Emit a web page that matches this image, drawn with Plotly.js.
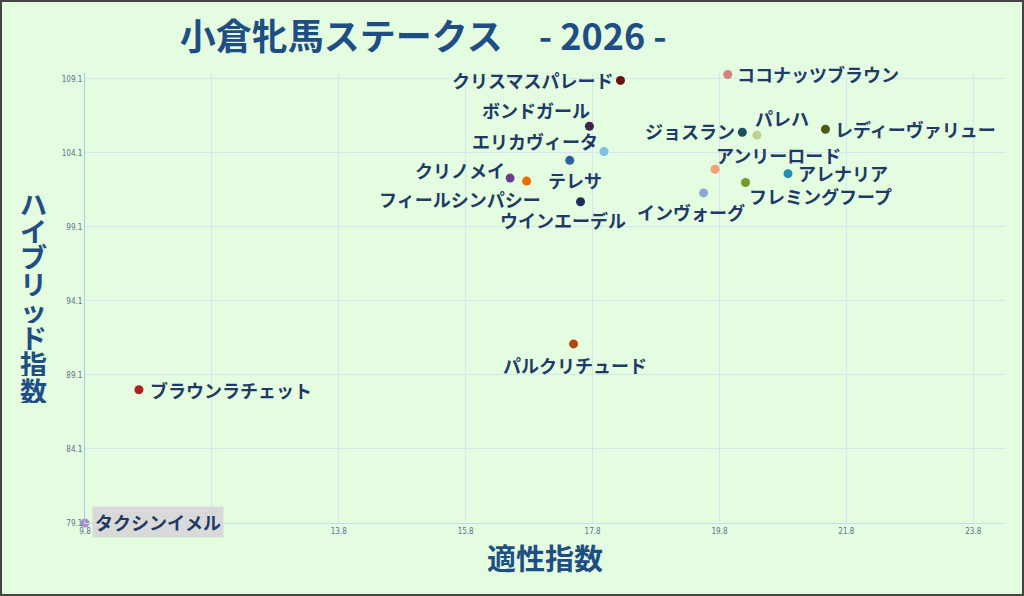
<!DOCTYPE html>
<html>
<head>
<meta charset="utf-8">
<script src="https://cdn.plot.ly/plotly-3.0.1.min.js"></script>
<style>
  html, body { margin: 0; padding: 0; background: #e4fde0; }
  #chart { width: 1024px; height: 596px; border: 2px solid #444; box-sizing: border-box; }
</style>
</head>
<body>
<div id="chart"></div>
<script>
// 馬名・適性指数・ハイブリッド指数
var horses = ['クリスマスパレード', 'ココナッツブラウン', 'ボンドガール', 'エリカヴィータ', 'テレサ',
  'クリノメイ', 'フィールシンパシー', 'ウインエーデル', 'ジョスラン', 'パレハ',
  'レディーヴァリュー', 'アンリーロード', 'アレナリア', 'フレミングフープ', 'インヴォーグ',
  'パルクリチュード', 'ブラウンラチェット', 'タクシンイメル'];
var tekisei = [18.24, 19.93, 17.75, 17.98, 17.44,
  16.50, 16.76, 17.61, 20.16, 20.39,
  21.47, 19.73, 20.88, 20.21, 19.55,
  17.50, 10.65, 9.80];
var hybrid = [109.0, 109.4, 105.9, 104.2, 103.6,
  102.4, 102.2, 100.8, 105.5, 105.3,
  105.7, 103.0, 102.7, 102.1, 101.4,
  91.2, 88.1, 79.1];
var dotColors = ['#6b1010', '#d88080', '#3d2448', '#7ec4e0', '#2f5f9e',
  '#6a3d8a', '#f06a00', '#1a2f55', '#1a5060', '#c0d090',
  '#4a5a18', '#f4a070', '#2090b0', '#7a9a28', '#8aa8d8',
  '#b04a10', '#b02020', '#a890c0'];
// ラベルの配置（アンカーとピクセルのずれ）
var labelAnchor = ['right', 'left', 'right', 'right', 'left',
  'right', 'right', 'center', 'right', 'left',
  'left', 'left', 'left', 'left', 'right',
  'center', 'left', 'left'];
var labelDx = [-7, 8, 2, -5, -23,
  -4, 15, -18, -6, -3,
  9, 0, 9, 2, 42,
  1, 10, 7];
var labelDy = [0, 0, 16, 10, -20,
  8, -18, -18, 1, 17,
  0, 14, 1, -13, -19,
  -21, 0, 1];
var boxed = 'タクシンイメル';

var xTicks = [9.8, 11.8, 13.8, 15.8, 17.8, 19.8, 21.8, 23.8];
var yTicks = [79.1, 84.1, 89.1, 94.1, 99.1, 104.1, 109.1];
var yTitleChars = ['ハ', 'イ', 'ブ', 'リ', 'ッ', 'ド', '指', '数'];

var labelFont = { family: 'Noto Sans CJK JP, sans-serif', size: 18, color: '#1f3a66', weight: 'bold' };
var navy = '#1f4e84';

var trace = {
  x: tekisei,
  y: hybrid,
  mode: 'markers',
  type: 'scatter',
  marker: { size: 9, color: dotColors },
  cliponaxis: false,
  hoverinfo: 'skip'
};

var annotations = horses.map(function (h, i) {
  return {
    x: tekisei[i], y: hybrid[i], xref: 'x', yref: 'y',
    text: h, showarrow: false,
    xanchor: labelAnchor[i], yanchor: 'middle',
    xshift: labelDx[i], yshift: labelDy[i],
    bgcolor: h === boxed ? '#d9d9d9' : 'rgba(0,0,0,0)',
    borderpad: h === boxed ? 2 : 0,
    font: labelFont
  };
});
// 縦書きの y 軸タイトル
yTitleChars.forEach(function (c, i) {
  annotations.push({
    xref: 'paper', yref: 'paper', x: -0.0565, y: (320 - i * 26.7) / 450,
    text: c, showarrow: false, xanchor: 'center', yanchor: 'middle', height: 26,
    font: { family: 'Noto Sans CJK JP, sans-serif', size: 27, color: navy, weight: 'bold' }
  });
});

var tickFont = { family: 'Liberation Sans Narrow, DejaVu Sans Condensed, sans-serif', size: 8, color: '#5a7090' };

var layout = {
  width: 1020,
  height: 592,
  paper_bgcolor: '#e4fde0',
  plot_bgcolor: '#e4fde0',
  margin: { l: 83, r: 17, t: 71, b: 71 },
  showlegend: false,
  title: {
    text: '小倉牝馬ステークス　- 2026 -',
    font: { family: 'Noto Sans CJK JP, sans-serif', size: 36, color: navy, weight: 'bold' },
    x: 0.413, xanchor: 'center', xref: 'container',
    y: 0.94, yanchor: 'middle', yref: 'container'
  },
  xaxis: {
    range: [9.8, 24.3],
    tickvals: xTicks,
    ticktext: xTicks.map(function (v) { return v.toFixed(1); }),
    tickfont: tickFont,
    gridcolor: '#d4e6f2',
    showline: true, linecolor: '#c6dcef', linewidth: 1,
    zeroline: false,
    title: { text: '適性指数', font: { family: 'Noto Sans CJK JP, sans-serif', size: 29, color: navy, weight: 'bold' }, standoff: 14 }
  },
  yaxis: {
    range: [79.1, 109.5],
    tickvals: yTicks,
    ticktext: yTicks.map(function (v) { return v.toFixed(1); }),
    tickfont: tickFont,
    gridcolor: '#d4e6f2',
    showline: true, linecolor: '#a8c6ee', linewidth: 1,
    zeroline: false
  },
  annotations: annotations
};

Plotly.newPlot('chart', [trace], layout, { displayModeBar: false });
</script>
</body>
</html>
